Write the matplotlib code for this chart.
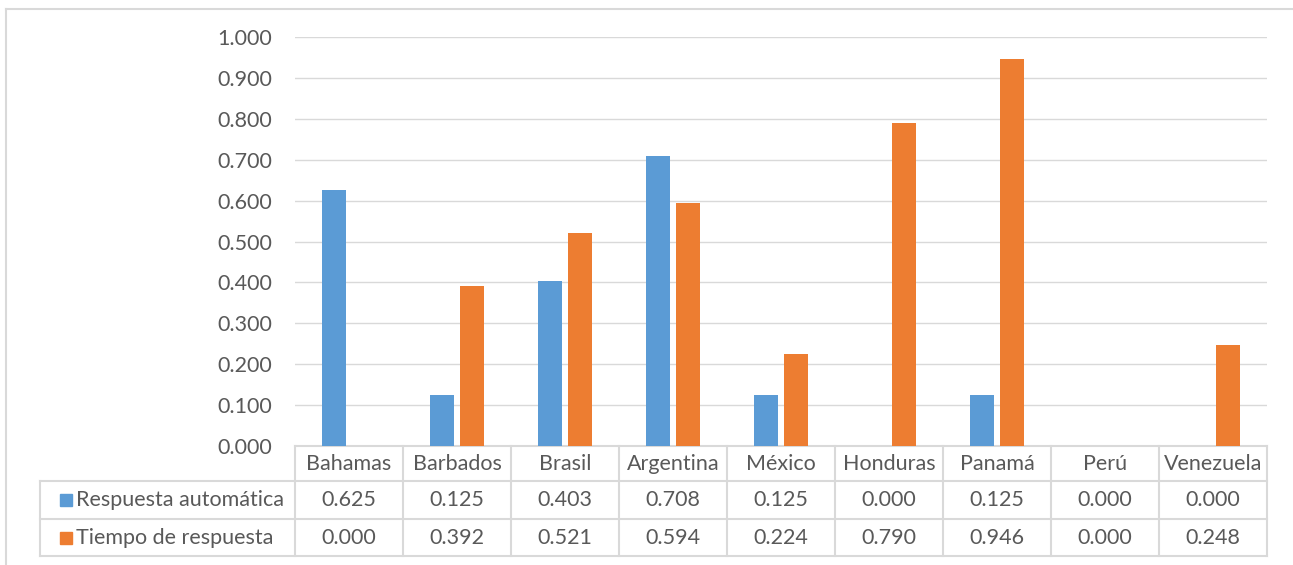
import numpy as np
import matplotlib
matplotlib.use('Agg')
from matplotlib import pyplot as plt
from matplotlib.lines import Line2D
from matplotlib.patches import Rectangle

paises = ['Bahamas', 'Barbados', 'Brasil', 'Argentina', 'México',
          'Honduras', 'Panamá', 'Perú', 'Venezuela']
respuesta_automatica = [0.625, 0.125, 0.403, 0.708, 0.125, 0.000, 0.125, 0.000, 0.000]
tiempo_respuesta = [0.000, 0.392, 0.521, 0.594, 0.224, 0.790, 0.946, 0.000, 0.248]
series_names = ['Respuesta automática', 'Tiempo de respuesta']
y_ticks = [0.0, 0.1, 0.2, 0.3, 0.4, 0.5, 0.6, 0.7, 0.8, 0.9, 1.0]

BLUE, ORANGE = '#5B9BD5', '#ED7D31'
GRID = '#D9D9D9'
TXT = '#595959'
FS = 15.5

plt.rcParams['font.family'] = ['Lato', 'DejaVu Sans']

W, H = 1293, 565
fig = plt.figure(figsize=(W / 100, H / 100), dpi=100)

# plot area in pixels
x0, x1, ytop, ybot = 295, 1267, 37, 446
ax = fig.add_axes([x0 / W, 1 - ybot / H, (x1 - x0) / W, (ybot - ytop) / H])

n = len(paises)
x = np.arange(n)
bw, off = 0.225, 0.14
ax.bar(x - off, respuesta_automatica, bw, color=BLUE, zorder=3)
ax.bar(x + off, tiempo_respuesta, bw, color=ORANGE, zorder=3)

ax.set_xlim(-0.5, n - 0.5)
ax.set_ylim(0, 1.0)
ax.set_yticks(y_ticks)
ax.set_yticklabels([f'{v:.3f}' for v in y_ticks], fontsize=FS, color=TXT)
ax.tick_params(axis='y', length=0, pad=16.5)
ax.set_xticks([])
ax.grid(axis='y', color=GRID, lw=1.0, zorder=0)
for s in ['top', 'right', 'left']:
    ax.spines[s].set_visible(False)
ax.spines['bottom'].set_color(GRID)
ax.spines['bottom'].set_linewidth(1.5)

# data table below the axes
colw = (x1 - x0) / n
ah = ybot - ytop
def px2ay(py):
    return (ybot - py) / ah
def px2dx(px):
    return (px - x0) / colw - 0.5

rows = [446, 481, 519, 556]
ry = [px2ay(r) for r in rows]
left = px2dx(40)
tr = ax.get_xaxis_transform()
lk = dict(color=GRID, lw=1.5, transform=tr, clip_on=False)

# horizontal lines
for yy in ry[1:]:
    ax.add_line(Line2D([left, n - 0.5], [yy, yy], **lk))
# vertical lines
for k in range(n + 1):
    xx = k - 0.5
    ax.add_line(Line2D([xx, xx], [ry[0], ry[3]], **lk))
ax.add_line(Line2D([left, left], [ry[1], ry[3]], **lk))

# header row
for i, p in enumerate(paises):
    ax.text(i, (ry[0] + ry[1]) / 2, p, transform=tr, ha='center', va='center',
            fontsize=FS, color=TXT, clip_on=False)

# value rows
for r, (name, vals, col) in enumerate(zip(series_names,
                                          [respuesta_automatica, tiempo_respuesta],
                                          [BLUE, ORANGE])):
    yc = (ry[r + 1] + ry[r + 2]) / 2
    sq0, sq1 = px2dx(60), px2dx(72)
    sh = 12 / ah
    ax.add_patch(Rectangle((sq0, yc - sh / 2), sq1 - sq0, sh, color=col,
                           transform=tr, clip_on=False))
    ax.text(px2dx(76), yc, name, transform=tr, ha='left', va='center',
            fontsize=FS, color=TXT, clip_on=False)
    for i, v in enumerate(vals):
        ax.text(i, yc, f'{v:.3f}', transform=tr, ha='center', va='center',
                fontsize=FS, color=TXT, clip_on=False)

# chart area border
fig.add_artist(Line2D([6 / W, 1], [1 - 9 / H, 1 - 9 / H], color=GRID, lw=1.5,
                      transform=fig.transFigure))
fig.add_artist(Line2D([6 / W, 6 / W], [0, 1 - 9 / H], color=GRID, lw=1.5,
                      transform=fig.transFigure))

fig.savefig('out.png', dpi=100)
